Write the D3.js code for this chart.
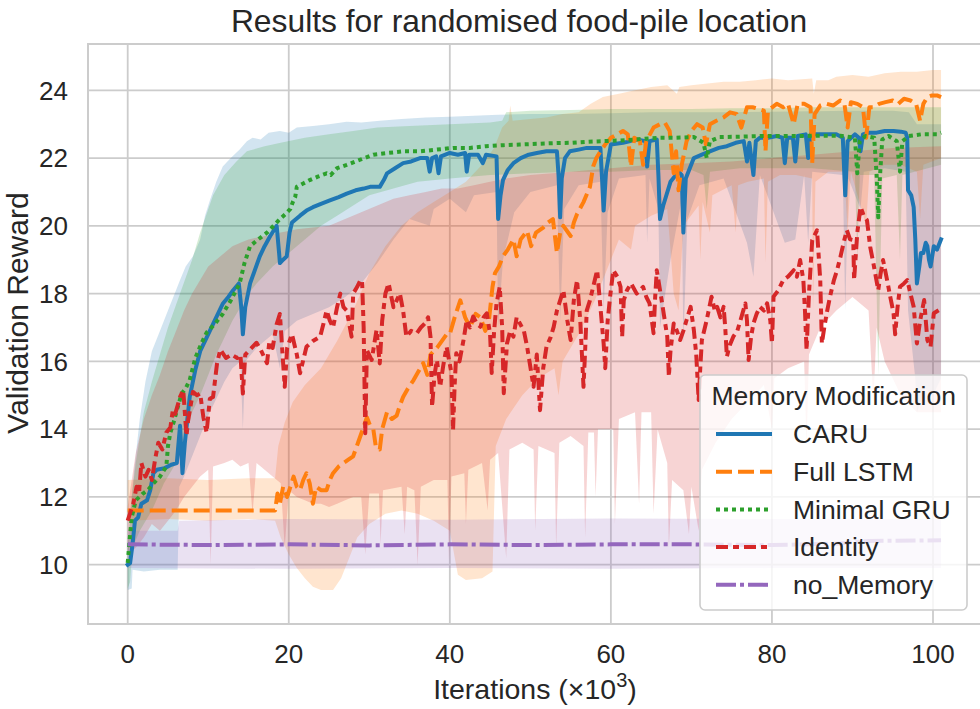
<!DOCTYPE html>
<html>
<head>
<meta charset="utf-8">
<script src="https://cdn.jsdelivr.net/npm/d3@7"></script>
<style>
  html, body { margin: 0; padding: 0; background: #ffffff; }
  svg { display: block; }
  text { font-family: "Liberation Sans", Arial, "DejaVu Sans", sans-serif; fill: #262626; }
</style>
</head>
<body>
<svg id="chart" width="980" height="709"></svg>
<script>
// ---- tick values ----
const iterTicks = [0, 20, 40, 60, 80, 100];
const rewardTicks = [10, 12, 14, 16, 18, 20, 22, 24];

// ---- series names (legend order) ----
const seriesNames = ["CARU", "Full LSTM", "Minimal GRU", "Identity", "no_Memory"];

// ---- CARU: mean reward [iteration (x10^3), reward] ----
const caruMean = [[0,10.0],[0.3,10.05],[0.6,10.6],[0.9,11.3],[1.3,11.4],[1.7,11.8],[2.4,11.9],[2.8,12.2],[3.2,12.7],[3.6,12.8],[4.6,12.85],[5.4,12.95],[6.1,13.0],[6.5,14.1],[6.8,12.7],[7.1,13.6],[7.7,14.95],[8.4,15.75],[9.0,16.3],[9.8,16.7],[10.8,17.2],[11.8,17.7],[12.5,17.9],[13.1,18.1],[13.8,18.3],[14.1,17.6],[14.3,16.8],[14.6,17.6],[15.2,18.3],[15.8,18.7],[16.4,19.1],[17.0,19.4],[17.7,19.7],[18.5,20.0],[18.8,19.2],[18.9,18.9],[19.3,19.0],[19.75,19.1],[20.1,19.8],[20.4,20.1],[21.4,20.3],[22.2,20.45],[23,20.55],[24,20.65],[25.1,20.75],[26.2,20.85],[27.2,20.95],[28.3,21.05],[29.3,21.1],[30.1,21.15],[31.3,21.15],[31.8,21.35],[32.2,21.55],[33.2,21.7],[34.2,21.85],[35.2,21.9],[36.3,22.0],[37.2,22.0],[37.5,21.6],[37.8,22.0],[38.3,22.05],[38.6,21.55],[38.9,22.05],[40,22.15],[41,22.1],[41.9,22.15],[42.1,21.6],[42.4,22.1],[43.5,22.1],[44.1,21.85],[44.5,22.1],[45.8,22.05],[46.0,20.2],[46.3,20.9],[46.6,21.35],[47.2,21.65],[47.9,21.85],[48.8,22.0],[49.8,22.1],[50.8,22.15],[52,22.2],[53.3,22.2],[53.5,21.5],[53.7,20.25],[53.9,21.4],[54.3,22.0],[54.9,22.2],[56,22.25],[57,22.3],[58,22.3],[58.7,22.3],[58.9,21.4],[59.1,20.45],[59.4,21.6],[60,22.4],[61.5,22.45],[63.2,22.55],[64.3,22.5],[64.5,21.75],[64.8,22.5],[65.7,22.55],[65.9,21.5],[66.1,20.2],[66.5,20.6],[67.4,21.3],[68.4,21.6],[68.8,21.5],[69,19.8],[69.3,21.4],[70.3,22.0],[71.3,22.1],[72.3,22.2],[73.4,22.3],[74.4,22.35],[75.5,22.45],[76.5,22.5],[76.9,21.9],[77.2,22.45],[77.7,21.5],[78,22.5],[78.5,22.6],[79.5,22.6],[80.6,22.65],[81.3,22.6],[81.6,21.85],[81.9,22.6],[82.6,22.6],[82.9,21.9],[83.2,22.65],[84.2,22.7],[84.5,22.0],[84.8,22.7],[86,22.7],[87,22.7],[88,22.7],[88.8,22.6],[89.1,20.9],[89.4,22.5],[90.3,22.7],[90.8,22.6],[91,22.2],[91.3,22.7],[92,22.75],[93,22.75],[94,22.8],[95.1,22.8],[96,22.78],[96.6,22.75],[96.8,22.6],[96.9,21.05],[97.3,20.9],[97.6,20.55],[97.8,19.6],[98,18.3],[98.3,18.8],[98.5,19.2],[98.8,19.2],[99.1,19.5],[99.3,19.4],[99.5,19.0],[99.7,18.8],[100.1,19.4],[100.5,19.3],[101,19.6]];
const caruUpper = [[0,10.4],[0.3,11.5],[0.8,12.8],[1.5,14.3],[2.2,15.4],[3,16.3],[4,16.9],[5,17.5],[6,18.1],[6.5,18.4],[7.2,18.8],[8.1,19.1],[9,19.6],[9.6,20.3],[10.2,20.75],[11,21.3],[11.8,21.75],[12.8,22.0],[13.9,22.25],[14.8,22.5],[15.5,22.6],[16.5,22.55],[17.5,22.75],[18.9,22.8],[20,22.75],[21,22.9],[23,22.95],[25,23.0],[27.2,23.07],[29,23.05],[31.3,23.1],[34,23.15],[37,23.2],[40,23.22],[43,23.25],[46,23.28],[50,23.3],[55,23.3],[60,23.32],[65,23.35],[70,23.35],[75,23.35],[80,23.37],[85,23.38],[90,23.4],[95,23.4],[97,23.35],[98,23.0],[101,23.0]];
const caruLower = [[0,9.25],[0.5,9.3],[0.6,9.85],[2,9.8],[4,9.85],[6.2,9.85],[6.4,12.3],[7,12.6],[8,13.2],[9,13.8],[10,14.4],[11,14.9],[12,15.4],[13,15.8],[14,16.0],[14.3,14.0],[14.6,16.0],[16,16.4],[18,16.8],[18.9,15.8],[19.5,16.9],[21,17.2],[23,17.4],[25,17.6],[27,17.9],[29,18.3],[31,18.9],[33,19.6],[35,20.2],[37.5,20.0],[38,20.5],[40,20.8],[42,20.4],[43,20.9],[45.8,21.0],[46,17.0],[46.6,19.0],[48,20.4],[50,21.0],[53.3,21.2],[53.7,17.2],[54.2,20.5],[56,21.2],[58.7,21.3],[59.1,17.5],[59.6,20.4],[61,21.4],[64.3,21.5],[64.5,19.5],[64.8,21.4],[65.9,20.5],[66.1,17.0],[67.4,19.0],[68.8,20.8],[69,16.5],[69.5,20.2],[71,21.2],[74,21.4],[76.9,19.5],[77.7,18.5],[78.5,21.5],[81.6,19.5],[82.9,19.6],[84,21.5],[84.5,19.5],[85,21.6],[88.8,21.5],[89.1,17.5],[89.5,21.4],[91,20.5],[91.4,21.6],[94,21.7],[96.6,21.6],[96.9,17.5],[97.8,15.5],[98,14.5],[99,15.2],[100,15.0],[101,15.5]];

// ---- Full LSTM ----
const lstmMean = [[0,11.6],[5,11.6],[10,11.6],[15,11.6],[18.3,11.6],[18.6,12.1],[18.9,11.8],[19.3,12.3],[19.8,12.0],[20.6,12.6],[21.0,12.3],[21.4,12.2],[21.8,12.5],[22.2,12.7],[22.6,12.4],[23,11.8],[23.4,12.3],[24,12.2],[24.7,12.2],[25.1,12.5],[25.5,12.7],[26.2,12.9],[26.8,13.0],[27.4,13.1],[28,13.2],[28.6,13.6],[29.2,14.0],[29.7,14.35],[30.1,14.1],[30.5,14.0],[30.8,13.5],[31.3,13.4],[31.6,14.0],[32.2,14.5],[32.8,14.3],[33.4,14.4],[33.8,14.7],[34.2,14.95],[34.8,15.2],[35.5,15.45],[36.1,15.7],[36.7,15.95],[37.2,15.6],[37.6,16.2],[38.4,16.4],[39,16.6],[39.6,16.8],[40,16.8],[40.6,17.3],[41.3,17.8],[41.9,17.3],[42.5,17.0],[43.2,17.4],[43.8,17.3],[44.4,16.9],[44.9,17.3],[45.3,18.2],[45.6,18.6],[46.1,18.8],[46.6,19.1],[47.2,19.3],[47.9,19.6],[48.3,19.1],[48.8,19.6],[49.6,19.85],[50.1,19.4],[50.7,19.8],[51.6,19.95],[52.2,20.1],[52.8,20.2],[53.3,19.2],[53.7,19.8],[54.1,20.0],[55,19.7],[55.4,20.1],[55.8,20.35],[56.6,20.7],[57.4,21.15],[57.8,21.75],[58.2,22.0],[58.7,22.2],[59.3,22.4],[60,22.6],[60.8,22.7],[61.5,22.8],[62.1,22.7],[62.5,21.75],[62.9,22.6],[63.6,22.5],[64,21.8],[64.4,22.5],[65.3,22.9],[66.1,23.0],[66.7,23.05],[67.3,22.8],[67.8,21.55],[68.1,22.2],[68.4,21.05],[68.8,21.8],[69.4,22.5],[70.0,22.8],[70.7,23.0],[71.4,22.9],[71.8,22.4],[72.3,23.0],[73.1,23.1],[74,23.2],[74.8,23.35],[75.6,23.3],[76.2,22.9],[76.9,23.5],[77.6,23.5],[78.3,23.45],[79.0,23.4],[79.2,22.2],[79.5,23.4],[80.6,23.6],[81.4,23.5],[82,23.6],[82.7,23.0],[83.2,23.6],[84,23.6],[84.8,23.5],[85,21.85],[85.3,23.3],[86,23.55],[86.8,23.6],[87.6,23.55],[88.5,23.7],[89,23.6],[89.4,22.9],[89.8,23.65],[90.6,23.6],[91.3,23.5],[91.7,22.6],[92.1,23.5],[92.6,23.5],[93.3,23.6],[94.1,23.65],[95,23.7],[95.7,23.6],[96.4,23.75],[97.2,23.7],[97.9,23.6],[98.4,23.1],[98.8,23.6],[99.3,23.8],[99.9,23.85],[100.5,23.85],[101,23.8]];
const lstmUpper = [[0,12.5],[5,12.55],[10,12.5],[15,12.55],[18.3,12.55],[18.7,13.5],[19.5,14.2],[20.5,14.8],[22,15.3],[24,15.8],[26,16.6],[28,17.5],[30,18.6],[32,19.4],[34,20.0],[36,20.4],[38,20.7],[40,21.0],[42,21.3],[44,21.8],[45.5,22.3],[46.5,22.9],[47.3,23.1],[47.5,23.55],[47.8,23.1],[50,23.15],[52,23.2],[54,23.3],[56,23.35],[57.5,23.6],[59,23.8],[61,23.9],[63,24.0],[65,24.1],[67,24.15],[68.2,23.9],[68.5,24.1],[70,24.15],[72,24.2],[74,24.25],[76,24.25],[78,24.3],[80,24.35],[82,24.3],[85,24.35],[85.2,23.9],[85.5,24.3],[87,24.3],[88,24.4],[90,24.45],[92,24.4],[94,24.5],[96,24.55],[98,24.55],[100,24.6],[101,24.6]];
const lstmLower = [[0,11.3],[5,11.35],[10,11.3],[15,11.35],[18.3,11.3],[19,10.8],[20,10.3],[21,9.9],[22,9.6],[23,9.35],[24,9.25],[25.5,9.25],[26.5,9.6],[27.5,10.2],[28.5,10.8],[30,11.2],[32,11.5],[34,11.6],[36,11.5],[38,11.3],[40,11.0],[41,9.7],[42,9.55],[44,9.6],[45.3,9.8],[45.7,13.5],[47,14.3],[49,15.0],[51,15.5],[53,15.8],[53.5,15.0],[54,16.0],[56,16.8],[58,17.8],[59,18.4],[60,19.0],[61,19.6],[62.5,19.3],[63,20.0],[65,20.3],[67,20.5],[67.4,19.3],[67.8,18.0],[68.4,17.5],[69,20.0],[70.9,20.6],[71.1,19.0],[71.4,20.7],[72.3,19.8],[72.6,20.9],[75,21.2],[75.5,19.8],[75.8,21.2],[77,21.3],[79,21.4],[79.2,18.9],[79.5,21.3],[81,21.5],[83,21.5],[85,21.4],[85.1,17.5],[85.4,21.3],[87,21.6],[89,21.6],[89.4,19.8],[89.8,21.6],[91.7,20.0],[92.1,21.6],[94,21.8],[96,21.8],[98,21.6],[98.4,20.2],[98.8,21.8],[101,22.0]];

// ---- Minimal GRU ----
const gruMean = [[0,10.05],[0.3,10.9],[0.5,11.4],[1.0,11.9],[1.9,12.1],[2.5,12.2],[3.2,12.4],[4.0,12.6],[4.8,12.9],[5.0,13.5],[5.3,13.9],[5.7,14.2],[6.1,14.55],[6.7,15.05],[7.2,15.2],[7.7,15.45],[8.4,16.1],[9.1,16.5],[9.8,16.85],[10.8,17.1],[11.8,17.4],[12.8,17.8],[13.9,18.3],[14.5,18.9],[15.2,19.4],[16.2,19.6],[17.3,19.8],[18.1,20.0],[18.9,20.2],[19.6,20.35],[20.2,20.5],[20.5,20.7],[20.8,20.85],[21,21.15],[21.8,21.25],[22.6,21.35],[23.6,21.45],[24.7,21.55],[25.2,21.5],[26,21.7],[27.2,21.8],[28.3,21.9],[29.4,22.0],[30.5,22.1],[32.3,22.15],[34.2,22.2],[36.3,22.2],[38.4,22.25],[40.4,22.3],[42.5,22.3],[44.5,22.35],[46.6,22.38],[48.7,22.4],[50.8,22.42],[52.9,22.44],[55,22.45],[57,22.48],[59.1,22.5],[61.1,22.52],[63.1,22.55],[65,22.58],[66.1,22.6],[68,22.6],[70.3,22.62],[71.5,22.45],[71.9,22.0],[72.3,22.5],[73.5,22.62],[76,22.63],[78.5,22.65],[81,22.65],[83.5,22.65],[86,22.66],[88.5,22.66],[90.3,22.6],[90.6,21.55],[90.9,22.5],[91.6,22.65],[92.7,22.6],[93.0,21.5],[93.2,20.25],[93.4,21.4],[93.7,22.55],[94.5,22.65],[95.5,22.5],[95.9,21.6],[96.2,22.5],[97,22.65],[98.5,22.7],[100.5,22.7],[101,22.75]];
const gruUpper = [[0,10.6],[0.5,12.0],[1,13.0],[2,14.5],[3,15.4],[4,16.2],[5,17.0],[6.5,18.0],[8,19.0],[9,19.8],[10.6,20.9],[12,21.5],[13.5,21.9],[14.8,22.2],[17,22.35],[19,22.45],[22,22.6],[25,22.7],[28,22.8],[31,22.9],[35,22.95],[40,23.0],[45,23.05],[46.5,23.1],[47,23.35],[50,23.4],[55,23.42],[60,23.45],[65,23.45],[70,23.45],[75,23.47],[80,23.47],[85,23.5],[90,23.5],[95,23.5],[101,23.5]];
const gruLower = [[0,9.3],[0.3,9.5],[0.6,10.5],[1.5,11.0],[3,11.6],[4.5,12.4],[6,13.0],[7,13.6],[8,14.5],[9,15.0],[10,15.6],[11,16.2],[12,16.7],[13,17.2],[14,17.6],[15,18.0],[16,18.3],[18,18.8],[20,19.2],[22,19.6],[24,20.0],[26,20.3],[28,20.6],[30,20.9],[33,21.1],[36,21.3],[40,21.4],[45,21.5],[50,21.55],[55,21.6],[60,21.6],[65,21.65],[70,21.65],[71.5,21.5],[71.9,20.5],[72.3,21.6],[76,21.7],[80,21.7],[85,21.7],[90.3,21.6],[90.6,19.0],[90.9,21.5],[92.7,21.5],[93.0,18.0],[93.2,15.6],[93.4,18.0],[93.7,21.4],[95.5,21.5],[95.9,19.0],[96.2,21.5],[101,21.8]];

// ---- Identity ----
const identityMean = [[0,11.3],[0.4,11.6],[0.7,11.8],[1.1,12.3],[1.4,12.1],[1.7,13.0],[2.2,12.6],[2.6,12.8],[3.0,12.5],[3.4,13.1],[3.8,13.6],[4.3,13.4],[4.8,13.9],[5.3,14.05],[5.6,14.55],[5.9,14.45],[6.5,14.95],[6.9,15.15],[7.3,13.8],[7.5,14.25],[8.1,15.1],[8.6,15.0],[9.0,15.05],[9.4,14.35],[9.8,13.9],[10.2,14.9],[10.6,14.95],[11.1,15.95],[11.5,16.35],[12.2,16.1],[12.9,16.2],[13.6,16.1],[14.0,16.2],[14.3,15.05],[14.6,16.2],[15.2,16.35],[16.0,16.55],[16.6,16.3],[17.3,15.95],[17.6,16.6],[18.0,16.4],[18.5,17.1],[18.9,17.4],[19.3,15.95],[19.5,15.25],[19.8,16.4],[20.4,16.8],[21.0,16.2],[21.4,15.65],[22.2,16.43],[23,16.6],[23.9,16.73],[24.3,17.1],[24.7,17.5],[25.1,17.2],[25.5,17.0],[26.0,17.6],[26.4,18.0],[26.8,17.6],[27.2,17.5],[27.8,16.73],[28,18.0],[28.5,18.2],[28.9,18.4],[29.1,18.4],[29.3,17.0],[29.5,13.88],[29.7,16.33],[30.3,16.04],[30.9,16.93],[31.3,15.94],[31.6,17.2],[32,18.0],[32.4,18.3],[33,17.6],[33.4,17.8],[33.8,18.0],[34.2,17.5],[34.6,16.73],[35.2,16.9],[35.9,16.83],[36.4,17.0],[36.9,17.12],[37.3,17.3],[37.6,16.73],[37.8,14.66],[38.1,15.6],[38.4,16.04],[38.8,15.25],[39.2,15.9],[39.6,16.43],[40.2,15.66],[40.4,13.97],[40.6,15.3],[40.8,16.24],[41.2,16.0],[41.7,16.63],[42.1,17.22],[42.5,17.0],[42.9,17.32],[43.4,17.1],[43.8,17.02],[44.2,17.3],[44.6,17.42],[45.0,16.8],[45.2,15.66],[45.5,16.9],[45.8,17.71],[46.2,18.2],[46.5,17.0],[46.7,15.06],[46.9,15.8],[47.1,16.53],[47.5,16.9],[47.9,16.73],[48.3,17.3],[48.7,17.12],[49.2,16.9],[49.6,16.43],[50,15.84],[50.4,15.25],[50.8,16.2],[51.2,14.56],[51.6,15.8],[52,16.43],[52.5,16.7],[52.9,17.02],[53.3,17.5],[53.7,17.8],[54.1,18.1],[54.6,17.2],[55,16.63],[55.4,17.81],[55.8,18.4],[56.2,17.2],[56.6,15.25],[56.8,16.3],[57,17.5],[57.4,17.8],[57.8,18.2],[58.3,18.69],[58.7,17.6],[59.1,16.53],[59.3,15.8],[59.6,17.2],[59.9,17.9],[60.3,18.69],[60.8,18.5],[61.2,18.2],[61.4,16.73],[61.6,17.8],[62,18.1],[62.5,18.3],[63.2,18.0],[64,18.2],[64.4,17.9],[64.8,17.71],[65.3,16.83],[65.5,17.9],[65.7,18.69],[66.3,17.81],[67,16.73],[67.2,15.55],[67.4,16.3],[67.8,17.12],[68.2,16.9],[68.6,16.63],[69,16.9],[69.4,17.22],[69.9,17.61],[70.3,16.93],[70.6,16.2],[70.9,14.86],[71.1,15.8],[71.3,16.63],[71.9,17.22],[72.5,17.91],[72.9,17.5],[73.2,17.61],[73.6,17.3],[74,17.61],[74.2,17.0],[74.4,16.14],[74.8,16.5],[75.2,16.73],[75.7,16.9],[76.1,17.22],[76.7,17.71],[76.9,17.2],[77.1,16.04],[77.4,16.7],[77.7,17.12],[78.1,17.4],[78.5,17.61],[79.0,17.5],[79.4,17.71],[79.8,17.2],[80.0,16.53],[80.2,17.91],[80.8,18.1],[81.4,18.4],[82,18.5],[82.7,18.69],[83.1,18.5],[83.5,18.99],[83.9,18.4],[84.1,17.5],[84.3,16.33],[84.6,18.0],[85,19.58],[85.6,19.87],[86,18.4],[86.2,16.53],[86.5,17.0],[86.8,17.42],[87.2,17.9],[87.7,18.4],[88.1,18.7],[88.5,19.08],[88.9,19.5],[89.3,19.87],[89.7,19.6],[90.1,19.58],[90.2,18.4],[90.6,19.8],[91,20.56],[91.4,20.3],[91.8,20.17],[92.2,19.38],[92.6,18.89],[93.2,18.1],[93.5,18.6],[93.8,18.99],[94.3,18.4],[94.7,17.9],[95.1,17.42],[95.3,16.8],[95.6,17.6],[95.9,18.2],[96.4,18.3],[96.8,18.4],[97.2,18.0],[97.6,17.61],[98,16.53],[98.4,17.2],[98.9,17.81],[99.3,16.63],[99.7,16.43],[100.1,17.42],[100.7,17.51]];
const identityUpper = [[0,11.7],[0.5,12.5],[1,13.3],[2,14.3],[3,15.0],[4,15.6],[5,16.3],[6,16.9],[7,17.5],[8,18.0],[9,18.4],[10,18.8],[11,19.0],[12,19.2],[13,19.4],[14,19.5],[15,19.6],[17,19.7],[19,19.8],[21,19.9],[23,19.95],[25,20.0],[27,20.2],[29,20.4],[31,20.6],[33,20.8],[35,20.9],[37,21.0],[39,21.1],[41,21.1],[43,21.2],[45,21.3],[47,21.4],[50,21.5],[55,21.6],[60,21.7],[65,21.8],[70,21.85],[75,21.9],[80,22.0],[85,22.1],[90,22.2],[95,22.3],[101,22.35]];
const identityLower = [[0,10.3],[1,10.5],[2,10.8],[3,11.2],[4,11.0],[5,11.3],[6,11.6],[7,12.0],[8,12.3],[9,12.6],[10,12.8],[10.3,10.0],[10.6,12.9],[12,13.0],[13,13.1],[14,12.9],[15,13.0],[15.5,11.5],[16,13.0],[17,12.8],[18,12.6],[19,12.4],[19.5,10.5],[20,12.2],[21,12.0],[22,11.9],[23,11.8],[24,11.8],[25,11.7],[26,11.8],[27,11.9],[28,12.0],[29,12.0],[29.5,10.3],[30,12.1],[31.2,12.1],[31.4,10.6],[31.7,12.2],[34,12.3],[34.4,10.9],[34.7,12.3],[35.6,12.2],[36,10.0],[36.4,12.3],[38,12.5],[39.7,12.5],[39.9,10.1],[40.2,12.6],[41.8,12.7],[42,11.2],[42.3,12.8],[44,13.0],[44.7,11.6],[45,13.1],[46,13.3],[47,10.2],[47.4,13.4],[49,13.6],[50.4,13.4],[50.6,11.0],[51,13.5],[53,13.3],[53.2,10.5],[53.6,13.6],[55,13.8],[56.6,13.5],[56.8,10.8],[57.2,13.9],[57.9,13.9],[58.1,12.0],[58.4,14.0],[59,14.0],[60.3,14.0],[60.5,11.2],[61,14.3],[63,14.5],[63.5,11.8],[63.8,14.5],[65,14.5],[65.3,11.5],[65.8,14.0],[67,13.0],[67.2,10.5],[67.6,12.5],[69,12.2],[69.7,10.9],[70,12.3],[70.9,11.0],[71.3,12.8],[73,13.6],[75,14.3],[77,14.8],[79,15.3],[80,14.0],[80.3,15.5],[82,15.8],[84,16.0],[84.3,13.5],[84.6,16.2],[86,17.0],[88,17.5],[90,17.9],[92,17.5],[92.6,14.8],[93,17.0],[94,16.0],[96,15.0],[98,14.5],[101,14.5]];

// ---- no_Memory ----
const noMemoryMean = [[0,10.6],[10,10.58],[20,10.6],[30,10.57],[40,10.6],[50,10.58],[60,10.6],[70,10.6],[80,10.58],[88,10.62],[92,10.7],[101,10.72]];
const noMemoryUpper = [[0,11.0],[6.2,11.0],[6.4,11.3],[20,11.35],[40,11.33],[60,11.36],[80,11.35],[101,11.35]];
const noMemoryLower = [[0,9.9],[20,9.88],[40,9.9],[60,9.88],[80,9.9],[101,9.9]];

const seriesColors = ["#1f77b4", "#ff7f0e", "#2ca02c", "#d62728", "#9467bd"];

// ---- layout ----
const W = 980, H = 709;
const plot = { left: 88, right: 982, top: 44, bottom: 624 };
const LW = 4;
const dashes = [null, [4, 1.5], [1, 1], [3, 1.25, 1.5, 1.25], [5, 1, 1, 1]]
  .map(d => d ? d.map(v => v * LW).join(",") : null);

const x = d3.scaleLinear().domain([0, 100]).range([127.7, 933]);
const y = d3.scaleLinear().domain([10, 24]).range([564.7, 90.3]);

const series = [
  { mean: caruMean, upper: caruUpper, lower: caruLower },
  { mean: lstmMean, upper: lstmUpper, lower: lstmLower },
  { mean: gruMean, upper: gruUpper, lower: gruLower },
  { mean: identityMean, upper: identityUpper, lower: identityLower },
  { mean: noMemoryMean, upper: noMemoryUpper, lower: noMemoryLower }
].map((s, i) => Object.assign(s, { name: seriesNames[i], color: seriesColors[i], dash: dashes[i] }));

const svg = d3.select("#chart");
svg.append("rect").attr("width", W).attr("height", H).attr("fill", "#ffffff");

svg.append("defs").append("clipPath").attr("id", "plot-clip")
  .append("rect")
  .attr("x", plot.left).attr("y", plot.top)
  .attr("width", plot.right - plot.left).attr("height", plot.bottom - plot.top);

// grid (drawn below the data)
const grid = svg.append("g").attr("stroke", "#cccccc").attr("stroke-width", 1.8);
grid.selectAll("line.gx").data(iterTicks).join("line")
  .attr("x1", d => x(d)).attr("x2", d => x(d))
  .attr("y1", plot.top).attr("y2", plot.bottom);
grid.selectAll("line.gy").data(rewardTicks).join("line")
  .attr("y1", d => y(d)).attr("y2", d => y(d))
  .attr("x1", plot.left).attr("x2", plot.right);

const line = d3.line().x(d => x(d[0])).y(d => y(d[1])).curve(d3.curveLinear);

// confidence bands sit beneath every mean line
const bandLayer = svg.append("g").attr("clip-path", "url(#plot-clip)");
series.forEach(s => {
  const ring = s.upper.concat(s.lower.slice().reverse());
  bandLayer.append("path")
    .attr("d", line(ring) + "Z")
    .attr("fill", s.color)
    .attr("fill-opacity", 0.2)
    .attr("stroke", "none");
});

const lineLayer = svg.append("g").attr("clip-path", "url(#plot-clip)");
series.forEach(s => {
  lineLayer.append("path")
    .attr("d", line(s.mean))
    .attr("fill", "none")
    .attr("stroke", s.color)
    .attr("stroke-width", LW)
    .attr("stroke-linejoin", "round")
    .attr("stroke-linecap", s.dash ? "butt" : "square")
    .attr("stroke-dasharray", s.dash);
});

// frame
svg.append("rect")
  .attr("x", plot.left).attr("y", plot.top)
  .attr("width", plot.right - plot.left).attr("height", plot.bottom - plot.top)
  .attr("fill", "none").attr("stroke", "#cccccc").attr("stroke-width", 2);

// tick labels
svg.append("g").selectAll("text").data(iterTicks).join("text")
  .attr("x", d => x(d)).attr("y", 663)
  .attr("text-anchor", "middle").attr("font-size", 26)
  .text(d => d);
svg.append("g").selectAll("text").data(rewardTicks).join("text")
  .attr("x", 68).attr("y", d => y(d) + 9.3)
  .attr("text-anchor", "end").attr("font-size", 26)
  .text(d => d);

// title and axis labels
svg.append("text")
  .attr("x", 519).attr("y", 31.5)
  .attr("text-anchor", "middle").attr("font-size", 31.8)
  .text("Results for randomised food-pile location");

const xl = svg.append("text")
  .attr("x", (plot.left + plot.right) / 2).attr("y", 699)
  .attr("text-anchor", "middle").attr("font-size", 28.5);
xl.append("tspan").text("Iterations (×10");
xl.append("tspan").attr("dy", -12).attr("font-size", 20).text("3");
xl.append("tspan").attr("dy", 12).text(")");

svg.append("text")
  .attr("transform", "translate(28,313) rotate(-90)")
  .attr("text-anchor", "middle").attr("font-size", 30)
  .text("Validation Reward");

// legend
const lg = svg.append("g");
lg.append("rect")
  .attr("x", 700).attr("y", 375).attr("width", 267).attr("height", 235)
  .attr("rx", 5).attr("ry", 5)
  .attr("fill", "#ffffff").attr("fill-opacity", 0.8)
  .attr("stroke", "#cccccc").attr("stroke-width", 1.6);
lg.append("text")
  .attr("x", 711.5).attr("y", 405)
  .attr("font-size", 26.5)
  .text("Memory Modification");
series.forEach((s, i) => {
  const cy = 434 + i * 37.7;
  lg.append("line")
    .attr("x1", 716).attr("x2", 772).attr("y1", cy).attr("y2", cy)
    .attr("stroke", s.color).attr("stroke-width", LW)
    .attr("stroke-dasharray", s.dash)
    .attr("stroke-linecap", "butt");
  lg.append("text")
    .attr("x", 793).attr("y", cy + 9.3)
    .attr("font-size", 26.5)
    .text(s.name);
});
</script>
</body>
</html>
